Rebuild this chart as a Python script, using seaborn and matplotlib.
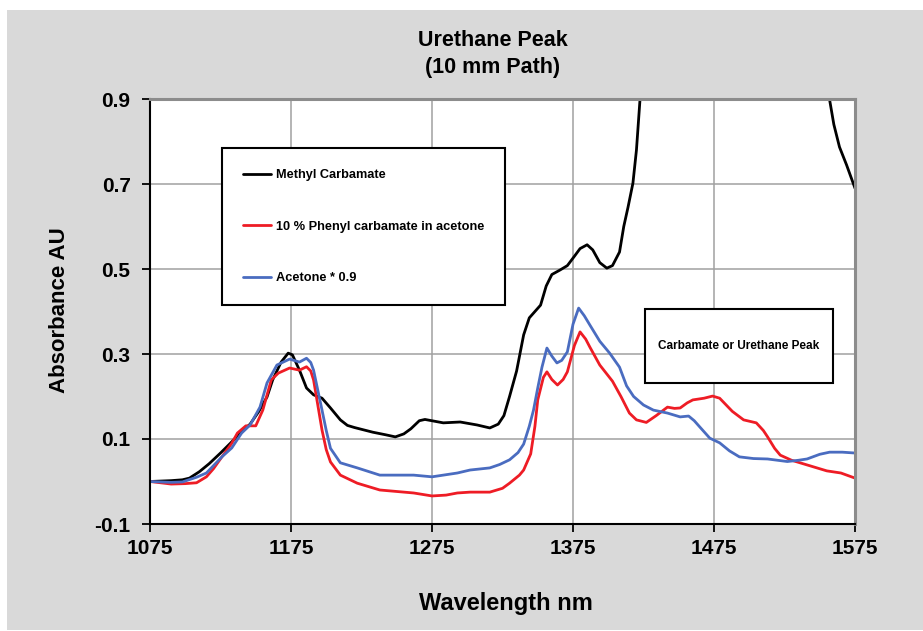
import numpy as np
import pandas as pd
import matplotlib
matplotlib.use("Agg")
import matplotlib.pyplot as plt
from matplotlib.patches import Rectangle
import seaborn as sns

# ---------------- data ----------------
series_names = ["Methyl Carbamate", "10 % Phenyl carbamate in acetone", "Acetone * 0.9"]

methyl_wl = [1075, 1090, 1098, 1103, 1110, 1117, 1125, 1132, 1139, 1146, 1152, 1158, 1162, 1168,
             1173, 1176, 1181, 1186, 1191, 1197, 1203, 1210, 1215, 1220, 1233, 1242, 1249, 1255,
             1260, 1266, 1270, 1283, 1295, 1307, 1316, 1322, 1326, 1330, 1335, 1340, 1344, 1348,
             1352, 1356, 1360, 1366, 1371, 1376, 1380, 1385, 1389, 1394, 1399, 1403, 1408, 1411,
             1414, 1417.5, 1420, 1422.5, 1426, 1435, 1460, 1490, 1520, 1545, 1553, 1557, 1560,
             1564, 1569, 1575]
methyl_abs = [0.000, 0.002, 0.004, 0.008, 0.023, 0.042, 0.067, 0.090, 0.114, 0.135, 0.164, 0.199,
              0.239, 0.281, 0.302, 0.298, 0.262, 0.220, 0.204, 0.196, 0.173, 0.145, 0.132, 0.127,
              0.116, 0.110, 0.105, 0.112, 0.124, 0.143, 0.146, 0.138, 0.140, 0.133, 0.126, 0.135,
              0.155, 0.200, 0.260, 0.345, 0.385, 0.400, 0.415, 0.460, 0.487, 0.498, 0.508, 0.530,
              0.548, 0.557, 0.545, 0.515, 0.502, 0.508, 0.540, 0.600, 0.645, 0.702, 0.780, 0.898,
              1.050, 1.400, 1.900, 2.100, 1.900, 1.300, 1.000, 0.898, 0.840, 0.787, 0.745, 0.690]

phenyl_wl = [1075, 1090, 1100, 1108, 1115, 1120, 1126, 1133, 1137, 1143, 1150, 1155, 1161, 1166,
             1174, 1181, 1186, 1189, 1191, 1194, 1197, 1200, 1203, 1210, 1222, 1238, 1262, 1275,
             1285, 1293, 1302, 1316, 1325, 1330, 1337, 1340, 1345, 1348, 1350, 1354, 1356.5, 1360,
             1364, 1368, 1371, 1376, 1380, 1384, 1387, 1394, 1403, 1409, 1415, 1420, 1427, 1434,
             1442, 1447, 1451, 1456, 1460, 1468, 1474, 1479, 1488, 1496, 1505, 1510, 1513, 1518,
             1522, 1530, 1536, 1545, 1555, 1565, 1575]
phenyl_abs = [0.000, -0.006, -0.005, -0.003, 0.011, 0.030, 0.058, 0.090, 0.114, 0.131, 0.131, 0.168,
              0.239, 0.255, 0.267, 0.262, 0.270, 0.260, 0.239, 0.180, 0.121, 0.075, 0.046, 0.015,
              -0.004, -0.020, -0.027, -0.034, -0.032, -0.027, -0.025, -0.025, -0.016, -0.004, 0.015,
              0.027, 0.065, 0.130, 0.192, 0.245, 0.258, 0.240, 0.227, 0.240, 0.258, 0.320, 0.352,
              0.335, 0.316, 0.274, 0.236, 0.200, 0.161, 0.145, 0.139, 0.155, 0.175, 0.172, 0.173,
              0.185, 0.192, 0.196, 0.201, 0.196, 0.165, 0.145, 0.138, 0.120, 0.105, 0.078, 0.062,
              0.050, 0.044, 0.035, 0.025, 0.020, 0.008]

acetone_wl = [1075, 1090, 1098, 1108, 1115, 1126, 1133, 1140, 1146, 1153, 1158, 1165, 1174, 1181,
              1186, 1189, 1191, 1194, 1197, 1200, 1203, 1210, 1222, 1238, 1262, 1275, 1293, 1302,
              1316, 1323, 1330, 1336, 1340, 1344, 1347, 1350, 1353, 1356.5, 1360, 1363.6, 1367,
              1371, 1375, 1379, 1383, 1387, 1394, 1401, 1408, 1413, 1418, 1425, 1432, 1442, 1451,
              1457, 1461, 1465, 1472, 1479, 1486, 1493, 1503, 1513, 1527, 1535, 1541, 1550, 1557,
              1566, 1575]
acetone_abs = [0.000, -0.002, -0.001, 0.010, 0.020, 0.058, 0.079, 0.114, 0.133, 0.175, 0.232,
               0.274, 0.288, 0.281, 0.290, 0.280, 0.262, 0.215, 0.168, 0.120, 0.078, 0.044, 0.032,
               0.015, 0.015, 0.011, 0.020, 0.027, 0.032, 0.040, 0.051, 0.068, 0.088, 0.130, 0.168,
               0.220, 0.269, 0.314, 0.295, 0.279, 0.285, 0.305, 0.370, 0.408, 0.390, 0.368, 0.330,
               0.302, 0.269, 0.225, 0.200, 0.180, 0.168, 0.161, 0.152, 0.154, 0.143, 0.128, 0.102,
               0.091, 0.072, 0.058, 0.054, 0.053, 0.047, 0.050, 0.053, 0.064, 0.069, 0.069, 0.067]

x_ticks = [1075, 1175, 1275, 1375, 1475, 1575]
y_ticks = [-0.1, 0.1, 0.3, 0.5, 0.7, 0.9]
y_tick_labels = ["-0.1", "0.1", "0.3", "0.5", "0.7", "0.9"]
series_colors = ["#000000", "#ee1c25", "#4a6cc0"]
note_text = "Carbamate or Urethane Peak"

df = pd.concat([
    pd.DataFrame({"wl": methyl_wl, "A": methyl_abs, "series": series_names[0]}),
    pd.DataFrame({"wl": phenyl_wl, "A": phenyl_abs, "series": series_names[1]}),
    pd.DataFrame({"wl": acetone_wl, "A": acetone_abs, "series": series_names[2]}),
], ignore_index=True)

# ---------------- style ----------------
sns.set_style("white")
plt.rcParams["font.family"] = ["Liberation Sans", "DejaVu Sans"]
plt.rcParams["font.weight"] = "bold"
plt.rcParams["axes.unicode_minus"] = False
plt.rcParams["text.color"] = "black"
plt.rcParams["axes.labelcolor"] = "black"
plt.rcParams["xtick.color"] = "black"
plt.rcParams["ytick.color"] = "black"

W, H = 923, 631
fig = plt.figure(figsize=(W / 100, H / 100), dpi=100, facecolor="white")
bg = Rectangle((7 / W, 1 / H), 1 - 7 / W, (630 - 10) / H,
               transform=fig.transFigure, facecolor="#d9d9d9",
               edgecolor="none", zorder=-10)
fig.patches.append(bg)

ax = fig.add_axes([150 / W, 1 - 524 / H, 705 / W, 425 / H])
ax.set_facecolor("white")
ax.set_zorder(1)

sns.lineplot(data=df, x="wl", y="A", hue="series", hue_order=series_names,
             palette=series_colors, estimator=None, sort=False, linewidth=2.0,
             ax=ax, legend=True)

ax.set_xlim(x_ticks[0], x_ticks[-1])
ax.set_ylim(y_ticks[0], y_ticks[-1])
ax.set_xticks(x_ticks)
ax.set_xticklabels([str(t) for t in x_ticks])
ax.set_yticks(y_ticks)
ax.set_yticklabels(y_tick_labels)
ax.tick_params(axis="both", direction="out", length=6, width=1.3, color="black",
               labelsize=15, labelcolor="black", bottom=True, left=True)
ax.tick_params(axis="x", pad=5)
ax.tick_params(axis="y", pad=8)
for lab in ax.get_xticklabels() + ax.get_yticklabels():
    lab.set_fontweight("bold")

ax.grid(True, color="#a0a0a0", linewidth=1.1)
ax.set_axisbelow(True)
for side in ["left", "bottom"]:
    ax.spines[side].set_color("black")
    ax.spines[side].set_linewidth(1.5)
for side in ["top", "right"]:
    ax.spines[side].set_color("#8c8c8c")
    ax.spines[side].set_linewidth(2.2)
    ax.spines[side].set_visible(True)

ax.set_xlabel("Wavelength nm", fontsize=17, fontweight="bold", color="black")
ax.xaxis.set_label_coords((506 - 150) / 705, (524 - 592) / 425)
ax.set_ylabel("Absorbance AU", fontsize=16, fontweight="bold", color="black")
ax.yaxis.set_label_coords((70 - 150) / 705, (524 - 310) / 425)

ax.set_title("Urethane Peak\n(10 mm Path)", fontsize=15.5, fontweight="bold",
             color="black", x=(493 - 150) / 705, pad=19, linespacing=1.35)

sns.move_legend(ax, loc="upper left", bbox_to_anchor=(222 / W, 1 - 148 / H),
                bbox_transform=fig.transFigure, title=None, frameon=True,
                fancybox=False, framealpha=1, edgecolor="black",
                prop={"size": 9.2, "weight": "bold"}, borderpad=1.65,
                borderaxespad=0, labelspacing=3.1, handlelength=2.2,
                handletextpad=0.35, labelcolor="black")
leg = ax.get_legend()
leg.get_frame().set_linewidth(1.5)
for h in leg.get_lines():
    h.set_linewidth(2.0)

# annotation box
bx0 = x_ticks[0] + (645 - 150) / 705 * (x_ticks[-1] - x_ticks[0])
bx1 = x_ticks[0] + (833 - 150) / 705 * (x_ticks[-1] - x_ticks[0])
by0 = y_ticks[0] + (524 - 383) / 425 * (y_ticks[-1] - y_ticks[0])
by1 = y_ticks[0] + (524 - 309) / 425 * (y_ticks[-1] - y_ticks[0])
ax.add_patch(Rectangle((bx0, by0), bx1 - bx0, by1 - by0, facecolor="white",
                       edgecolor="black", linewidth=1.5, zorder=4))
ax.text((bx0 + bx1) / 2, (by0 + by1) / 2, note_text, ha="center", va="center",
        fontsize=8.5, fontweight="bold", color="black", zorder=5)

fig.savefig("out.png", dpi=100, facecolor="white")
